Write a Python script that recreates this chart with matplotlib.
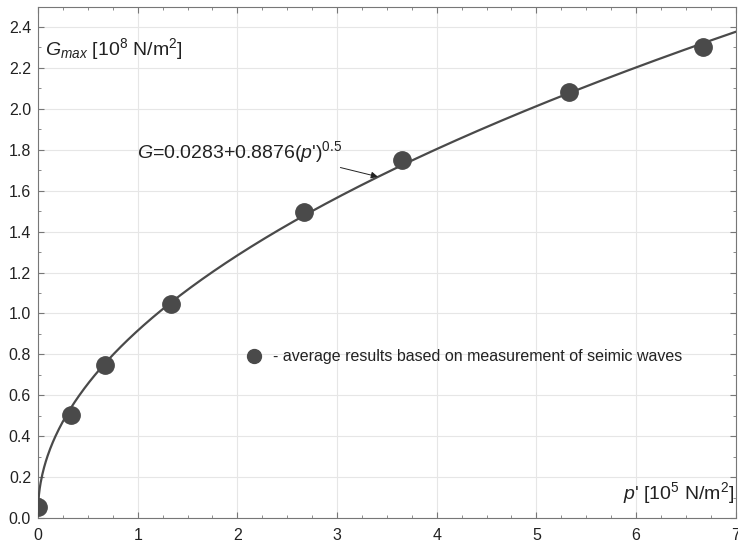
import numpy as np
import matplotlib
matplotlib.use('Agg')
import matplotlib.pyplot as plt
from matplotlib.ticker import MultipleLocator

plt.rcParams['font.family'] = ['Liberation Sans', 'DejaVu Sans']
plt.rcParams['mathtext.fontset'] = 'custom'
plt.rcParams['mathtext.rm'] = 'Liberation Sans'
plt.rcParams['mathtext.it'] = 'Liberation Sans:italic'

# measured points
p_vals = [0.0, 0.33, 0.67, 1.33, 2.67, 3.65, 5.33, 6.67]
g_vals = [0.055, 0.505, 0.75, 1.047, 1.495, 1.75, 2.08, 2.30]

# fitted curve G = a + b*sqrt(p')
fit_a = 0.0283
fit_b = 0.8876

dark = '#4a4a4a'

fig = plt.figure(figsize=(7.38, 5.45), dpi=100)
ax = fig.add_axes([0.0515, 0.0495, 0.9455, 0.9385])

p = np.linspace(0, 7, 800)
ax.plot(p, fit_a + fit_b * np.sqrt(p), color=dark, lw=1.6, zorder=3)
ax.plot(p_vals, g_vals, 'o', color=dark, ms=12.5, zorder=4)

ax.set_xlim(0, 7)
ax.set_ylim(0, 2.5)
ax.xaxis.set_major_locator(MultipleLocator(1))
ax.xaxis.set_minor_locator(MultipleLocator(0.25))
ax.yaxis.set_major_locator(MultipleLocator(0.2))
ax.yaxis.set_minor_locator(MultipleLocator(0.1))
ax.yaxis.set_major_formatter(plt.FuncFormatter(lambda v, pos: f'{v:.1f}'))
ax.tick_params(which='both', direction='in', top=True, right=True, color='#777777')
ax.tick_params(which='major', length=4, labelsize=11.5, labelcolor='#222222')
ax.tick_params(which='minor', length=2.5)
ax.tick_params(axis='x', pad=7)
ax.tick_params(axis='y', pad=5)
ax.grid(True, which='major', color='#e6e6e6', lw=0.8)
ax.set_axisbelow(True)
for s in ax.spines.values():
    s.set_color('#777777')

# axis labels drawn inside the plot
ax.text(0.07, 2.29, r'$G_{max}$ [10$^8$ N/m$^2$]', fontsize=14, color='#222222', va='center')
ax.text(6.985, 0.12, r"$p$' [10$^5$ N/m$^2$]", fontsize=14, color='#222222', ha='right', va='center')

# fit annotation
ax.annotate(r"$G$=0.0283+0.8876($p$')$^{0.5}$", xy=(3.41, 1.668), xytext=(0.99, 1.79),
            fontsize=14, color='#222222', va='center',
            arrowprops=dict(arrowstyle='-|>', color='#222222', lw=0.7,
                            shrinkA=0, shrinkB=0, mutation_scale=10,
                            relpos=(0.86, 0.15)))

# legend note
ax.plot([2.165], [0.79], 'o', color=dark, ms=10)
ax.text(2.36, 0.79, '- average results based on measurement of seimic waves',
        fontsize=11.5, color='#222222', va='center')

fig.savefig('out.png', dpi=100)
